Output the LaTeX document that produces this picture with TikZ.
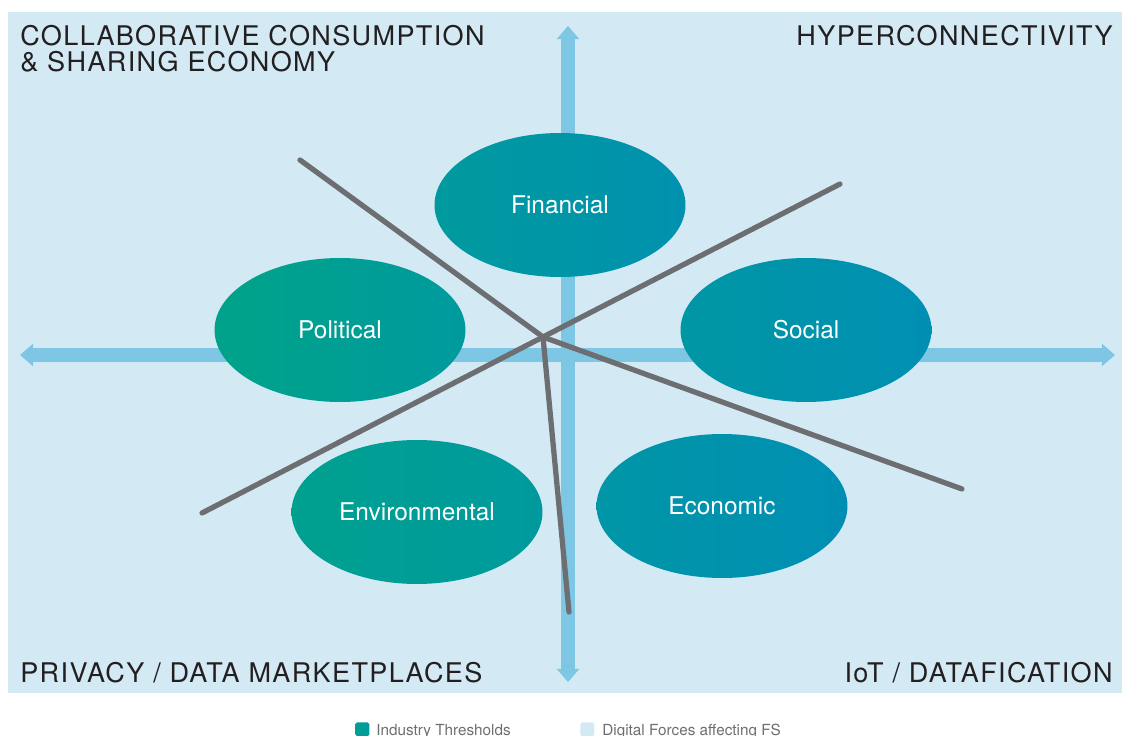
\documentclass[tikz,border=0pt]{standalone}
\usepackage{fontspec}
\setmainfont{TeX Gyre Heros}
\newfontfamily\cornerfont[LetterSpace=5]{TeX Gyre Heros}
\usetikzlibrary{arrows.meta}
\usetikzlibrary{shapes.geometric}
\definecolor{panelblue}{HTML}{D3EAF5}
\definecolor{axisblue}{HTML}{7EC7E4}
\definecolor{spokegray}{HTML}{6D6E71}
\definecolor{tealA}{HTML}{00A389}
\definecolor{tealB}{HTML}{009A9E}
\definecolor{tealC}{HTML}{008FB3}
\definecolor{labelink}{HTML}{231F20}
\definecolor{keygray}{HTML}{6D6E71}

\begin{document}
\begin{tikzpicture}[x=0.02cm, y=-0.02cm,
  force/.style={ellipse, minimum width=5.02cm, minimum height=2.88cm, inner sep=0,
    text=white, font=\fontsize{13.9}{16}\selectfont},
  axis/.style={axisblue, line width=8pt,
    {Triangle[width=13pt,length=7.5pt,line width=0pt]}-{Triangle[width=13pt,length=7.5pt,line width=0pt]}},
  spoke/.style={spokegray, line width=3pt, line cap=round},
  corner/.style={text=labelink, inner sep=0, font=\cornerfont\fontsize{15.4}{14.6}\selectfont},
  keybox/.style={minimum size=0.28cm, inner sep=0, rounded corners=1pt, anchor=north west},
  keytext/.style={text=keygray, inner sep=0, anchor=base west, font=\fontsize{8.7}{10}\selectfont}]
\useasboundingbox (0,0) rectangle (1125,736);
\fill[panelblue] (8,12) rectangle (1122,693);

% the two axes
\coordinate (top) at (568,26);
\coordinate (bottom) at (568,682);
\coordinate (left) at (20,355);
\coordinate (right) at (1115,355);
\draw[axis] (bottom) -- (top);
\draw[axis] (left) -- (right);

% the five forces
\node[force, left color=tealB, right color=tealC!80!tealB] (financial) at (560,205) {Financial};
\node[force, left color=tealA, right color=tealB] (political) at (340,330) {Political};
\node[force, left color=tealB!70!tealC, right color=tealC] (social) at (806,330) {Social};
\node[force, left color=tealA!70!tealB, right color=tealB] (environmental) at (417,512) {Environmental};
\node[force, left color=tealB!60!tealC, right color=tealC] (economic) at (722,506) {Economic};

% spokes from the hub
\coordinate (hub) at (543,337);
\foreach \x/\y [count=\i] in {300/160, 840/184, 962/489, 569/612, 202/513} {
  \coordinate (end\i) at (\x,\y);
  \draw[spoke] (hub) -- (end\i);
}

% corner labels
\node[corner, anchor=north west, align=left] (collab) at (20,25)
  {COLLABORATIVE CONSUMPTION\\\& SHARING ECONOMY};
\node[corner, anchor=north east] (hyper) at (1113,25) {HYPERCONNECTIVITY};
\node[corner, anchor=base west] (privacy) at (20,682) {PRIVACY / DATA MARKETPLACES};
\node[corner, anchor=base east] (iot) at (1113,682) {IoT / DATAFICATION};

% legend
\node[keybox, left color=tealA!50!tealB, right color=tealB] (keyA) at (355,722) {};
\node[keytext] (keyAtext) at (376,735) {Industry Thresholds};
\node[keybox, fill=panelblue] (keyB) at (580,722) {};
\node[keytext] (keyBtext) at (602,735) {Digital Forces affecting FS};
\end{tikzpicture}
\end{document}
